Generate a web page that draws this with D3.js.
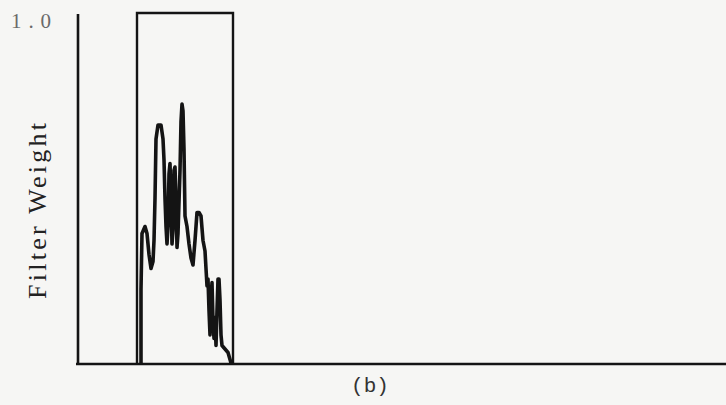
<!DOCTYPE html>
<html>
<head>
<meta charset="utf-8">
<script src="https://cdn.jsdelivr.net/npm/d3@7/dist/d3.min.js"></script>
<style>
  html, body { margin: 0; padding: 0; background: #f6f6f4; }
  #chart { width: 726px; height: 405px; }
  text { font-family: "Liberation Serif", "DejaVu Serif", serif; }
</style>
</head>
<body>
<div id="chart"></div>
<script>
// ideal filter passband (frequency bins) and its weight
const passband = [14.75, 38.75];
const passWeight = 1.0;

const weightX = [15.75, 15.75, 16, 16.75, 17.25, 17.75, 18.25, 18.75, 19, 19.25,
  19.5, 20, 20.75, 21.25, 21.5, 21.75, 22, 22.25, 22.5, 22.75,
  23, 23.25, 23.5, 23.75, 24, 24.25, 24.5, 24.75, 25, 25.5,
  25.75, 26, 26.25, 26.5, 26.75, 27.25, 27.75, 28.25, 28.75, 29.25,
  29.75, 30.25, 30.75, 31.25, 31.75, 32, 32.25, 32.5, 32.75, 33,
  33.25, 33.5, 33.75, 34, 34.25, 34.5, 34.75, 35, 35.25, 35.5,
  35.75, 36, 36.75, 37.5, 38, 38.25];
const weightY = [0, 0.21, 0.37, 0.39, 0.37, 0.31, 0.27, 0.29, 0.35, 0.47,
  0.64, 0.68, 0.68, 0.64, 0.58, 0.47, 0.39, 0.34, 0.39, 0.54,
  0.57, 0.47, 0.34, 0.38, 0.55, 0.56, 0.47, 0.33, 0.37, 0.55,
  0.69, 0.74, 0.72, 0.61, 0.42, 0.39, 0.34, 0.30, 0.28, 0.35,
  0.43, 0.43, 0.42, 0.35, 0.32, 0.27, 0.22, 0.24, 0.15, 0.08,
  0.18, 0.23, 0.12, 0.07, 0.13, 0.05, 0.15, 0.24, 0.24, 0.18,
  0.08, 0.05, 0.04, 0.03, 0.01, 0];

const yTickLabel = "1.0";
const yTitle = "Filter Weight";
const caption = "(b)";

const W = 726, H = 405;
const ink = "#141414";

const svg = d3.select('#chart')
  .append('svg')
  .attr('width', W)
  .attr('height', H);

svg.append('rect')
  .attr('width', W).attr('height', H)
  .attr('fill', '#f6f6f4');

const x = d3.scaleLinear().domain([0, 162]).range([78, 726]);
const y = d3.scaleLinear().domain([0, 1]).range([363, 13]);

// axes (plain lines, no ticks)
svg.append('line')
  .attr('x1', x(0)).attr('y1', y(0) + 1)
  .attr('x2', x(0)).attr('y2', y(1) + 1)
  .attr('stroke', ink)
  .attr('stroke-width', 2.6);

svg.append('line')
  .attr('x1', x(0) - 2).attr('y1', y(0) + 1)
  .attr('x2', x(162)).attr('y2', y(0) + 1)
  .attr('stroke', ink)
  .attr('stroke-width', 2.6);

// ideal passband box
const box = [
  [passband[0], 0], [passband[0], passWeight],
  [passband[1], passWeight], [passband[1], 0]
];
svg.append('path')
  .attr('d', d3.line().x(d => x(d[0])).y(d => y(d[1]))(box))
  .attr('fill', 'none')
  .attr('stroke', ink)
  .attr('stroke-width', 2.4)
  .attr('stroke-linejoin', 'miter');

// measured weight trace (thick pen)
const pts = weightX.map((v, i) => [v, weightY[i]]);
svg.append('path')
  .attr('d', d3.line().x(d => x(d[0])).y(d => y(d[1]))(pts))
  .attr('fill', 'none')
  .attr('stroke', ink)
  .attr('stroke-width', 3.6)
  .attr('stroke-linejoin', 'round')
  .attr('stroke-linecap', 'round');

// labels
svg.append('text')
  .attr('x', 11)
  .attr('y', 28)
  .attr('font-size', 21)
  .attr('textLength', 40)
  .attr('lengthAdjust', 'spacing')
  .attr('fill', '#6a6a6a')
  .text(yTickLabel);

svg.append('text')
  .attr('transform', 'translate(46, 211) rotate(-90)')
  .attr('text-anchor', 'middle')
  .attr('font-size', 26)
  .attr('textLength', 176)
  .attr('lengthAdjust', 'spacing')
  .attr('fill', '#222')
  .text(yTitle);

svg.append('text')
  .attr('x', 370)
  .attr('y', 392)
  .attr('text-anchor', 'middle')
  .style('font-family', '"Liberation Mono", monospace')
  .attr('font-size', 21)
  .attr('fill', '#333')
  .text(caption);
</script>
</body>
</html>
